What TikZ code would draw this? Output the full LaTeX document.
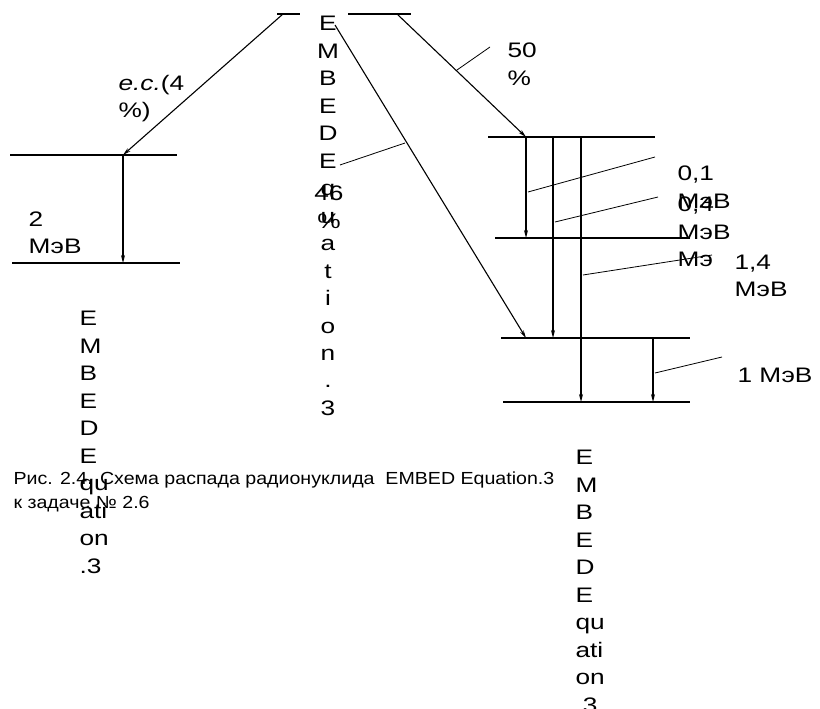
\documentclass[tikz,border=0pt]{standalone}
\usepackage{fontspec}
\setmainfont{Liberation Sans}[FakeStretch=1.25]
\newfontfamily\capfont{Liberation Sans}[FakeStretch=1.12]
\usetikzlibrary{arrows.meta}

\tikzset{
  level/.style={-, line width=1.7pt},
  pointer/.style={-, line width=0.8pt},
  lbl/.style={font=\fontsize{21}{27.5}\selectfont, inner sep=0pt, anchor=north west, align=left},
  caption/.style={font=\capfont\fontsize{17.5}{24}\selectfont, inner sep=0pt, anchor=north west, align=left}
}

\begin{document}
\begin{tikzpicture}[x=1pt, y=-1pt, ->, >={Stealth[length=8pt,width=4pt]}, line width=1.1pt]
    \useasboundingbox (0,0) rectangle (820,709);

    % Parent level
    \coordinate (p1) at (277,14);
    \coordinate (p2) at (300,14);
    \coordinate (p3) at (348,14);
    \coordinate (p4) at (411,14);

    % Left levels
    \coordinate (a1) at (10,155);
    \coordinate (a2) at (177,155);
    \coordinate (b1) at (12,263);
    \coordinate (b2) at (180,263);

    % Right levels
    \coordinate (c1) at (488,137);
    \coordinate (c2) at (655,137);
    \coordinate (d1) at (495,238);
    \coordinate (d2) at (690,238);
    \coordinate (e1) at (501,338);
    \coordinate (e2) at (690,338);
    \coordinate (f1) at (503,402);
    \coordinate (f2) at (690,402);

    \draw[level] (p1) -- (p2) (p3) -- (p4);
    \draw[level] (a1) -- (a2) (b1) -- (b2);
    \draw[level] (c1) -- (c2) (d1) -- (d2) (e1) -- (e2) (f1) -- (f2);

    % Decays
    \coordinate (s1) at (283,14);
    \coordinate (s2) at (335,25);
    \coordinate (s3) at (397,14);
    \coordinate (ta) at (123,155);
    \coordinate (tb) at (123,263);
    \coordinate (tc) at (526,137);
    \coordinate (te) at (526,338);
    \draw (s1) -- (ta);
    \draw (s2) -- (te);
    \draw (s3) -- (tc);

    % Gamma transitions
    \draw (ta) -- (tb);
    \draw (526,137) coordinate (g1) -- (526,238) coordinate (g1e);
    \draw (553,137) coordinate (g2) -- (553,338) coordinate (g2e);
    \draw (581,137) coordinate (g3) -- (581,402) coordinate (g3e);
    \draw (653,338) coordinate (g4) -- (653,402) coordinate (g4e);

    % Labels
    \node[lbl] (ec) at (118,74.5) {\textit{e.c.}(4\\\%)};
    \node[lbl] (e2) at (28,211) {2\\МэВ};
    \node[lbl] (eqa) at (79,310.5) {E\\M\\B\\E\\D\\E\\qu\\ati\\on\\.3};
    \node[lbl, anchor=north, align=center] (eqb) at (328,15.5)
        {E\\M\\B\\E\\D\\E\\q\\u\\a\\t\\i\\o\\n\\.\\3};
    \node[lbl, anchor=north, align=center] (p46) at (329,185.5) {46\\\%};
    \node[lbl] (p50) at (507,42.5) {50\\\%};
    \node[lbl] (e01) at (677,165.5) {0,1\\МэВ};
    \node[lbl] (e04) at (677,196.5) {0,4\\МэВ\\Мэ};
    \node[lbl] (e14) at (734,254.5) {1,4\\МэВ};
    \node[lbl, anchor=west] (e1) at (737,375) {1 МэВ};
    \node[lbl] (eqc) at (575,449.5) {E\\M\\B\\E\\D\\E\\qu\\ati\\on\\.3};
    \node[caption] (cap) at (13,471.5)
        {Рис. 2.4. Схема распада радионуклида \ EMBED Equation.3\\к задаче № 2.6};

    % Pointers
    \draw[pointer] (340,165) coordinate (q46) -- (405,143) coordinate (r46);
    \draw[pointer] (457,70) coordinate (q50) -- (490,47) coordinate (r50);
    \draw[pointer] (528,192) coordinate (q01) -- (655,157) coordinate (r01);
    \draw[pointer] (555,222) coordinate (q04) -- (658,197) coordinate (r04);
    \draw[pointer] (583,275) coordinate (q14) -- (712,255) coordinate (r14);
    \draw[pointer] (655,373) coordinate (q1) -- (722,357) coordinate (r1);
\end{tikzpicture}
\end{document}
